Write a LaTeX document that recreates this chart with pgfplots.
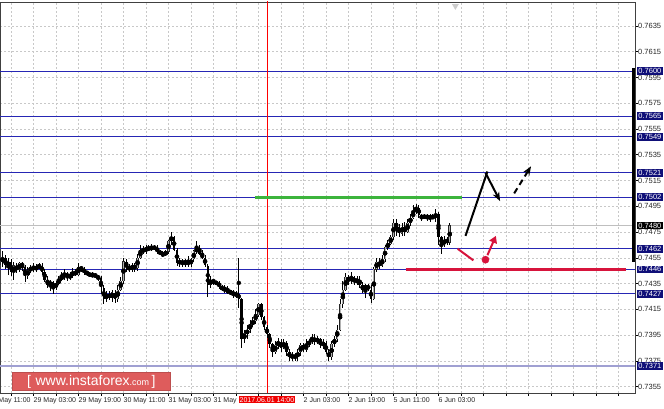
\documentclass[border=0pt]{standalone}
\usepackage{pgfplots}
\pgfplotsset{compat=1.18}
\usepackage{pgfplotstable}
\usepackage{fontspec}
\setmainfont{Liberation Sans}
\usetikzlibrary{arrows.meta}

\definecolor{navyc}{RGB}{38,38,180}
\definecolor{navybox}{RGB}{15,15,120}
\definecolor{lavc}{RGB}{160,160,210}
\definecolor{gridc}{RGB}{200,200,200}
\definecolor{redlvl}{RGB}{215,20,60}
\definecolor{greenlvl}{RGB}{60,180,60}
\definecolor{logored}{RGB}{222,92,92}
\definecolor{redlab}{RGB}{240,0,0}

\pgfplotstableread{
i o h l c
-12 0.7450 0.7455 0.7444 0.7452
-11 0.7452 0.7460 0.7448 0.7455
-10 0.7455 0.7457 0.7446 0.7449
-9 0.7449 0.7455 0.7442 0.7452
-8 0.7452 0.7454 0.7441 0.7444
-7 0.7444 0.7452 0.7438 0.7449
-6 0.7449 0.7451 0.7443 0.7446
-5 0.7446 0.7452 0.7444 0.7451
-4 0.7451 0.7452 0.7445 0.7448
-3 0.7448 0.7449 0.7436 0.7441
-2 0.7441 0.7448 0.7439 0.7445
-1 0.7445 0.7449 0.7443 0.7448
0 0.7448 0.7451 0.7444 0.7446
1 0.7446 0.7450 0.7444 0.7448
2 0.7448 0.7451 0.7446 0.7449
3 0.7449 0.7451 0.7442 0.7444
4 0.7444 0.7446 0.7436 0.7438
5 0.7438 0.7441 0.7432 0.7434
6 0.7434 0.7438 0.7429 0.7436
7 0.7436 0.7437 0.7427 0.7432
8 0.7432 0.7437 0.7430 0.7435
9 0.7435 0.7441 0.7434 0.7438
10 0.7438 0.7444 0.7437 0.7441
11 0.7441 0.7446 0.7438 0.7443
12 0.7443 0.7444 0.7437 0.7440
13 0.7440 0.7444 0.7438 0.7441
14 0.7441 0.7447 0.7439 0.7444
15 0.7444 0.7446 0.7441 0.7442
16 0.7442 0.7451 0.7441 0.7448
17 0.7448 0.7449 0.7444 0.7446
18 0.7446 0.7448 0.7442 0.7444
19 0.7444 0.7445 0.7441 0.7443
20 0.7443 0.7444 0.7440 0.7441
21 0.7441 0.7444 0.7440 0.7442
22 0.7442 0.7443 0.7439 0.7441
23 0.7441 0.7442 0.7437 0.7439
24 0.7439 0.7441 0.7427 0.7432
25 0.7432 0.7434 0.7419 0.7423
26 0.7423 0.7429 0.7421 0.7427
27 0.7427 0.7429 0.7422 0.7424
28 0.7424 0.7430 0.7421 0.7428
29 0.7428 0.7430 0.7420 0.7423
30 0.7423 0.7434 0.7421 0.7430
31 0.7430 0.7440 0.7429 0.7437
32 0.7437 0.7455 0.7435 0.7452
33 0.7452 0.7454 0.7444 0.7448
34 0.7448 0.7450 0.7444 0.7446
35 0.7446 0.7451 0.7444 0.7449
36 0.7449 0.7451 0.7444 0.7447
37 0.7447 0.7458 0.7445 0.7455
38 0.7455 0.7465 0.7454 0.7461
39 0.7461 0.7464 0.7458 0.7460
40 0.7460 0.7465 0.7458 0.7463
41 0.7463 0.7465 0.7460 0.7461
42 0.7461 0.7466 0.7460 0.7464
43 0.7464 0.7465 0.7461 0.7462
44 0.7462 0.7465 0.7458 0.7460
45 0.7460 0.7461 0.7457 0.7458
46 0.7458 0.7460 0.7456 0.7457
47 0.7457 0.7461 0.7456 0.7460
48 0.7460 0.7469 0.7458 0.7468
49 0.7468 0.7475 0.7465 0.7471
50 0.7471 0.7472 0.7460 0.7461
51 0.7461 0.7463 0.7449 0.7451
52 0.7451 0.7455 0.7448 0.7452
53 0.7452 0.7454 0.7448 0.7451
54 0.7451 0.7454 0.7448 0.7452
55 0.7452 0.7456 0.7448 0.7450
56 0.7450 0.7455 0.7448 0.7454
57 0.7454 0.7461 0.7452 0.7460
58 0.7460 0.7468 0.7458 0.7462
59 0.7462 0.7465 0.7457 0.7458
60 0.7458 0.7461 0.7454 0.7455
61 0.7455 0.7457 0.7448 0.7449
62 0.7449 0.7450 0.7425 0.7434
63 0.7434 0.7441 0.7432 0.7438
64 0.7438 0.7439 0.7434 0.7436
65 0.7436 0.7437 0.7434 0.7435
66 0.7435 0.7437 0.7431 0.7433
67 0.7433 0.7434 0.7429 0.7430
68 0.7430 0.7434 0.7428 0.7431
69 0.7431 0.7433 0.7427 0.7428
70 0.7428 0.7430 0.7426 0.7429
71 0.7429 0.7430 0.7424 0.7426
72 0.7426 0.7429 0.7424 0.7427
73 0.7427 0.7455 0.7416 0.7423
74 0.7423 0.7424 0.7385 0.7392
75 0.7392 0.7399 0.7389 0.7396
76 0.7396 0.7403 0.7392 0.7399
77 0.7399 0.7407 0.7397 0.7403
78 0.7403 0.7409 0.7401 0.7406
79 0.7406 0.7415 0.7404 0.7411
80 0.7411 0.7420 0.7409 0.7419
81 0.7419 0.7420 0.7407 0.7409
82 0.7409 0.7410 0.7399 0.7401
83 0.7401 0.7403 0.7393 0.7396
84 0.7396 0.7397 0.7385 0.7388
85 0.7388 0.7389 0.7378 0.7382
86 0.7382 0.7390 0.7380 0.7387
87 0.7387 0.7393 0.7384 0.7390
88 0.7390 0.7392 0.7382 0.7385
89 0.7385 0.7392 0.7384 0.7389
90 0.7389 0.7390 0.7379 0.7382
91 0.7382 0.7384 0.7375 0.7378
92 0.7378 0.7382 0.7375 0.7379
93 0.7379 0.7381 0.7375 0.7378
94 0.7378 0.7384 0.7375 0.7382
95 0.7382 0.7389 0.7379 0.7387
96 0.7387 0.7389 0.7382 0.7384
97 0.7384 0.7392 0.7382 0.7388
98 0.7388 0.7392 0.7386 0.7390
99 0.7390 0.7396 0.7388 0.7393
100 0.7393 0.7396 0.7387 0.7390
101 0.7390 0.7394 0.7388 0.7392
102 0.7392 0.7393 0.7385 0.7387
103 0.7387 0.7392 0.7384 0.7389
104 0.7389 0.7390 0.7380 0.7382
105 0.7382 0.7384 0.7375 0.7378
106 0.7378 0.7390 0.7376 0.7388
107 0.7388 0.7394 0.7386 0.7392
108 0.7392 0.7403 0.7390 0.7399
109 0.7399 0.7423 0.7398 0.7419
110 0.7419 0.7437 0.7416 0.7430
111 0.7430 0.7443 0.7429 0.7440
112 0.7440 0.7442 0.7434 0.7437
113 0.7437 0.7444 0.7435 0.7440
114 0.7440 0.7441 0.7434 0.7436
115 0.7436 0.7441 0.7434 0.7438
116 0.7438 0.7441 0.7432 0.7434
117 0.7434 0.7436 0.7428 0.7430
118 0.7430 0.7435 0.7424 0.7434
119 0.7434 0.7435 0.7429 0.7430
120 0.7430 0.7434 0.7420 0.7423
121 0.7423 0.7448 0.7422 0.7446
122 0.7446 0.7455 0.7444 0.7452
123 0.7452 0.7455 0.7446 0.7449
124 0.7449 0.7457 0.7448 0.7454
125 0.7454 0.7465 0.7452 0.7463
126 0.7463 0.7469 0.7461 0.7466
127 0.7466 0.7473 0.7465 0.7471
128 0.7471 0.7485 0.7469 0.7482
129 0.7482 0.7485 0.7472 0.7479
130 0.7479 0.7481 0.7471 0.7474
131 0.7474 0.7482 0.7472 0.7479
132 0.7479 0.7483 0.7472 0.7475
133 0.7475 0.7485 0.7474 0.7482
134 0.7482 0.7489 0.7480 0.7486
135 0.7486 0.7496 0.7485 0.7491
136 0.7491 0.7497 0.7489 0.7494
137 0.7494 0.7496 0.7486 0.7488
138 0.7488 0.7489 0.7484 0.7486
139 0.7486 0.7489 0.7485 0.7488
140 0.7488 0.7489 0.7484 0.7486
141 0.7486 0.7489 0.7483 0.7487
142 0.7487 0.7489 0.7485 0.7486
143 0.7486 0.7493 0.7483 0.7489
144 0.7489 0.7491 0.7465 0.7471
145 0.7471 0.7472 0.7458 0.7465
146 0.7465 0.7472 0.7463 0.7469
147 0.7469 0.7471 0.7465 0.7467
148 0.7467 0.7482 0.7465 0.7480
}\candles

\tikzset{lvl/.style={anchor=west, fill=navybox, text=white, inner sep=1.2pt, xshift=2pt, font=\fontsize{7.5}{8}\selectfont}}

\begin{document}
\begin{tikzpicture}
\begin{axis}[
  scale only axis, width=635pt, height=391pt,
  xmin=-11.91, xmax=213.87, ymin=0.7350, ymax=0.76536,
  axis line style={black!75, line width=0.6pt},
  scaled y ticks=false,
  xtick={-8,0,...,208},
  xticklabels={{},29 May 03:00,{},29 May 19:00,{},30 May 11:00,{},31 May 03:00,{},31 May,{},{},{},2 Jun 03:00,{},2 Jun 19:00,{},5 Jun 11:00,{},6 Jun 03:00,{},{},{},{},{},{},{},{},{}},
  ytick={0.7355,0.7375,0.7395,0.7415,0.7435,0.7455,0.7475,0.7495,0.7515,0.7535,0.7555,0.7575,0.7595,0.7615,0.7635},
  yticklabel pos=right, ytick pos=right, xtick pos=bottom,
  tick align=outside, major tick length=3pt,
  tick style={black, line width=0.5pt},
  xticklabel style={anchor=north west, inner sep=0pt, yshift=-1pt, font=\fontsize{7}{8}\selectfont, text=black!85},
  yticklabel style={anchor=west, inner sep=1pt, xshift=-1pt, font=\fontsize{7.5}{8}\selectfont, text=black!85,
    /pgf/number format/fixed, /pgf/number format/fixed zerofill,
    /pgf/number format/precision=4, /pgf/number format/assume math mode=true},
  grid=major,
  major grid style={gridc, dash pattern=on 2pt off 2pt, line width=0.5pt},
  clip=true,
]
% level lines
\addplot[navyc, line width=1pt] coordinates {(-12,0.7600) (214,0.7600)};
\addplot[navyc, line width=1pt] coordinates {(-12,0.7565) (214,0.7565)};
\addplot[navyc, line width=1pt] coordinates {(-12,0.7549) (214,0.7549)};
\addplot[navyc, line width=1pt] coordinates {(-12,0.7521) (214,0.7521)};
\addplot[navyc, line width=1pt] coordinates {(-12,0.7502) (214,0.7502)};
\addplot[navyc, line width=1pt] coordinates {(-12,0.7462) (214,0.7462)};
\addplot[navyc, line width=1pt] coordinates {(-12,0.7446) (214,0.7446)};
\addplot[navyc, line width=1pt] coordinates {(-12,0.7427) (214,0.7427)};
% current price line
\addplot[black!25, line width=0.6pt] coordinates {(-12,0.7480) (214,0.7480)};
% lavender level
\addplot[lavc, line width=2pt] coordinates {(-12,0.7371) (214,0.7371)};
% red vertical separator
\addplot[red, line width=0.7pt] coordinates {(83,0.7350) (83,0.7654)};

% wicks
\addplot[black, only marks, mark=none,
  error bars/.cd, y dir=both, y explicit, error mark=none,
  error bar style={line width=0.8pt, black}]
  table[x=i, y expr={(\thisrow{h}+\thisrow{l})/2}, y error expr={(\thisrow{h}-\thisrow{l})/2}]{\candles};
% bull bodies (outline + light centre)
\addplot[black, only marks, mark=none,
  restrict expr to domain={\thisrow{c}-\thisrow{o}}{0:1},
  error bars/.cd, y dir=both, y explicit, error mark=none,
  error bar style={line width=2.5pt, black!85}]
  table[x=i, y expr={(\thisrow{o}+\thisrow{c})/2}, y error expr={(\thisrow{c}-\thisrow{o})/2+0.00002}]{\candles};
\addplot[black, only marks, mark=none,
  restrict expr to domain={\thisrow{c}-\thisrow{o}}{0:1},
  error bars/.cd, y dir=both, y explicit, error mark=none,
  error bar style={line width=1.1pt, black!30}]
  table[x=i, y expr={(\thisrow{o}+\thisrow{c})/2}, y error expr={(\thisrow{c}-\thisrow{o})/2}]{\candles};
% bear bodies
\addplot[black, only marks, mark=none,
  restrict expr to domain={\thisrow{o}-\thisrow{c}}{0.00001:1},
  error bars/.cd, y dir=both, y explicit, error mark=none,
  error bar style={line width=2.5pt, black}]
  table[x=i, y expr={(\thisrow{o}+\thisrow{c})/2}, y error expr={(\thisrow{o}-\thisrow{c})/2}]{\candles};

% annotations
\addplot[greenlvl, line width=3pt] coordinates {(78.9,0.7502) (152.5,0.7502)};
\addplot[redlvl, line width=3pt] coordinates {(132.3,0.7446) (210.5,0.7446)};
\addplot[redlvl, line width=2pt] coordinates {(150.8,0.7462) (156.4,0.7453)};
\addplot[redlvl, only marks, mark=*, mark size=3.6pt] coordinates {(160.7,0.74535)};
\addplot[redlvl, line width=2pt, -{Triangle[length=7pt,width=8pt]}] coordinates {(161.4,0.7457) (164.4,0.7472)};
\addplot[black, line width=2pt] coordinates {(153.6,0.7472) (161.4,0.7522)};
\addplot[black, line width=2pt, -{Stealth[length=9pt,width=7pt]}] coordinates {(160.7,0.7521) (165.9,0.7499)};
\addplot[black, line width=2pt, dash pattern=on 6pt off 4pt, -{Stealth[length=9pt,width=7pt]}] coordinates {(170.9,0.7505) (176.9,0.7526)};
% thick right bar
\addplot[black, line width=2.6pt] coordinates {(213.4,0.7602) (213.4,0.7452)};
% chart shift marker
\addplot[only marks, mark=triangle*, mark size=3.5pt, mark options={rotate=180, fill=gray!40, draw=gray!40}] coordinates {(150,0.76505)};

\coordinate (redlabpos) at (axis cs:83,0.7350);
\coordinate (d0) at (axis cs:-16,0.7350);
\coordinate (cp) at (axis cs:213.87,0.7480);
\coordinate (L1) at (axis cs:213.87,0.7600);
\coordinate (L2) at (axis cs:213.87,0.7565);
\coordinate (L3) at (axis cs:213.87,0.7549);
\coordinate (L4) at (axis cs:213.87,0.7521);
\coordinate (L5) at (axis cs:213.87,0.7502);
\coordinate (L6) at (axis cs:213.87,0.7462);
\coordinate (L7) at (axis cs:213.87,0.7446);
\coordinate (L8) at (axis cs:213.87,0.7427);
\coordinate (L9) at (axis cs:213.87,0.7371);
\end{axis}
\node[lvl] at (L1) {0.7600};
\node[lvl] at (L2) {0.7565};
\node[lvl] at (L3) {0.7549};
\node[lvl] at (L4) {0.7521};
\node[lvl] at (L5) {0.7502};
\node[lvl] at (L6) {0.7462};
\node[lvl] at (L7) {0.7446};
\node[lvl] at (L8) {0.7427};
\node[lvl] at (L9) {0.7371};
\node[lvl, fill=black] at (cp) {0.7480};
\node[anchor=north west, inner sep=0pt, font=\fontsize{7}{8}\selectfont, text=black!85] at ([yshift=-4pt]d0) {26 May 11:00};
\node[anchor=north, fill=redlab, text=white, inner sep=1pt, minimum width=54pt, font=\fontsize{7}{8}\selectfont, yshift=-3pt] at (redlabpos) {2017.06.01 14:00};
\node[anchor=south west, fill=logored, draw=logored!85!black, line width=0.5pt, text=white, minimum width=158pt, minimum height=18pt, inner sep=0pt] at ([xshift=12pt,yshift=2pt]current axis.south west) {\fontsize{14}{14}\selectfont [\,\,www.instaforex{\fontsize{9}{9}\selectfont .com}\,]};
\pgfresetboundingbox
\path[use as bounding box] ([yshift=-16pt]current axis.south west) rectangle ([xshift=29pt,yshift=2pt]current axis.north east);
\end{tikzpicture}
\end{document}
